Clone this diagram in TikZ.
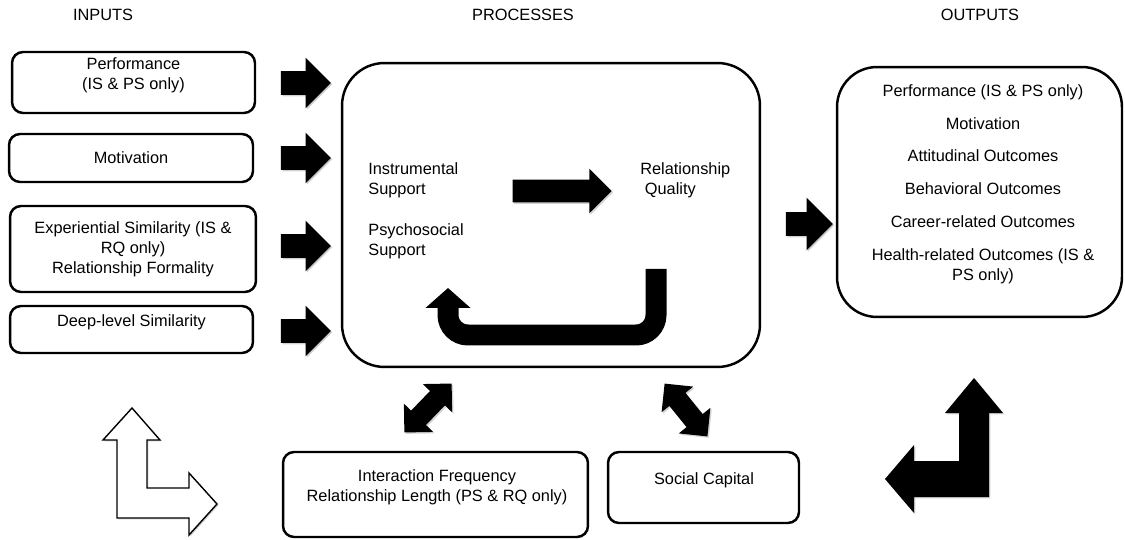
\documentclass[tikz,border=0pt]{standalone}
\usepackage{fontspec}
\setmainfont{Liberation Sans}
\usetikzlibrary{shapes.arrows,arrows.meta,shadows}

\tikzset{
  inbox/.style={draw=black, line width=1.4pt, rounded corners=0.22cm, align=center, inner sep=0pt},
  bigbox/.style={draw=black, line width=1.4pt, rounded corners=0.85cm, inner sep=0pt},
  lbl/.style={align=left, inner sep=0pt},
  arrshadow/.style={drop shadow={shadow xshift=0.8pt, shadow yshift=-0.8pt, fill=black!35}},
  blockarrow/.style={single arrow, fill=black, inner xsep=0pt, inner ysep=0.23cm,
    single arrow head extend=0.27cm, minimum height=1cm, arrshadow},
  twoway/.style={double arrow, fill=black, inner xsep=0pt, inner ysep=0.2cm,
    double arrow head extend=0.2cm, minimum height=1.36cm, arrshadow}
}

\begin{document}
\begin{tikzpicture}[x=0.02cm, y=-0.02cm, font=\fontsize{9.3}{11.3}\selectfont]
        \useasboundingbox (0,0) rectangle (1125,540);

        \node (hin) at (103,15) {INPUTS};
        \node (hproc) at (523,15) {PROCESSES};
        \node (hout) at (980,15) {OUTPUTS};

        %inputs
        \node[inbox, minimum width=4.86cm, minimum height=1.22cm] (perf) at (133.5,82.5) {};
        \node[align=center] (perftxt) at (133.5,75) {Performance\\(IS \& PS only)};
        \node[inbox, minimum width=4.88cm, minimum height=0.96cm] (motiv) at (131,158) {Motivation};
        \node[inbox, minimum width=4.92cm, minimum height=1.72cm] (expsim) at (133,249)
            {Experiential Similarity (IS \&\\RQ only)\\Relationship Formality};
        \node[inbox, minimum width=4.86cm, minimum height=0.94cm] (deep) at (131.5,329.5) {};
        \node (deeptxt) at (131.5,322) {Deep-level Similarity};

        \foreach \y/\n in {83/ina, 158/inb, 246/inc, 331/ind}
            \node[blockarrow] (\n) at (300,\y) {};

        %processes
        \node[bigbox, minimum width=8.36cm, minimum height=6.08cm] (proc) at (551,215) {};
        \node[lbl, anchor=west] (instr) at (368,180) {Instrumental\\Support};
        \node[lbl, anchor=west] (psych) at (368,241) {Psychosocial\\Support};
        \node[lbl, anchor=west] (relq) at (640,180) {Relationship\\~Quality};
        \node[blockarrow, inner ysep=0.22cm, single arrow head extend=0.22cm,
            minimum height=1.98cm] (mid) at (556.5,191) {};

        \coordinate (ustart) at (656,269);
        \coordinate (uend) at (448,288);
        \draw[line width=0.42cm, rounded corners=0.4cm, -{Triangle[width=0.88cm, length=0.4cm]}]
            (ustart) |- (448,335) -- (uend);

        %outputs
        \node[blockarrow, single arrow head extend=0.29cm, minimum height=0.94cm] (outarr) at (803.5,224) {};
        \node[bigbox, rounded corners=0.8cm, minimum width=5.7cm, minimum height=5cm] (outbox) at (979.5,192) {};
        \node[align=center] (outtxt) at (983,184) {Performance (IS \& PS only)\\[7.4pt]Motivation\\[7.4pt]%
            Attitudinal Outcomes\\[7.4pt]Behavioral Outcomes\\[7.4pt]Career-related Outcomes\\[7.4pt]%
            Health-related Outcomes (IS \&\\PS only)};

        %bottom row
        \node[twoway, rotate=46] (dbla) at (428,408) {};
        \node[twoway, rotate=-51] (dblb) at (686,410) {};
        \node[inbox, minimum width=6.1cm, minimum height=1.7cm] (inter) at (435.5,494.5) {};
        \node[align=center] (intertxt) at (437,487) {Interaction Frequency\\Relationship Length (PS \& RQ only)};
        \node[inbox, minimum width=3.82cm, minimum height=1.42cm] (social) at (703.5,487.5) {};
        \node (socialtxt) at (704,480) {Social Capital};

        \filldraw[fill=white, draw=black, line width=0.8pt, arrshadow]
            (117,518) -- (117,440) -- (103,440) -- (132,408) -- (160,440) -- (147,440) -- (147,488)
            -- (189,488) -- (189,473) -- (217,504) -- (189,535) -- (189,518) -- cycle;
        \fill[black, arrshadow]
            (989,497) -- (989,413) -- (1003,413) -- (974,378) -- (945,413) -- (959,413) -- (959,461)
            -- (914,461) -- (914,445) -- (885,479) -- (914,513) -- (914,497) -- cycle;
\end{tikzpicture}
\end{document}
